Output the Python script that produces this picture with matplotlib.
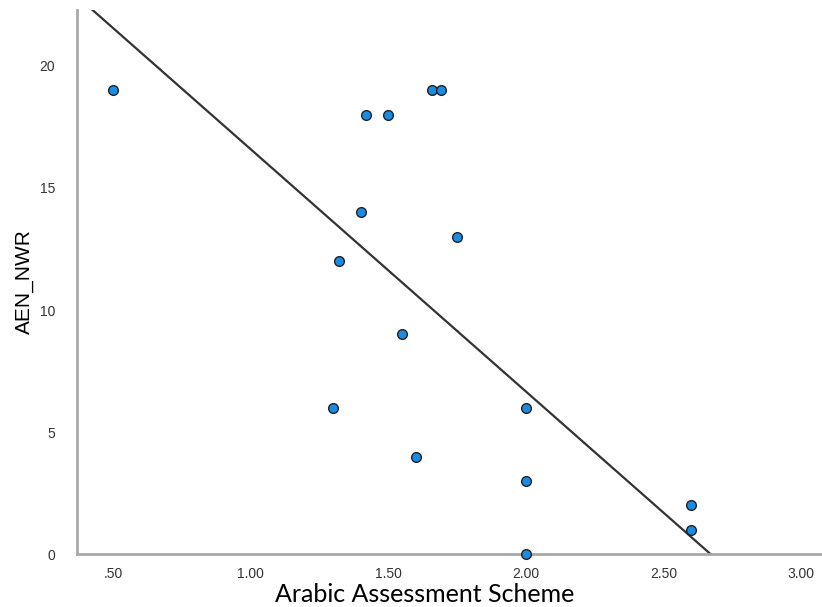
import numpy as np
import matplotlib
matplotlib.use("Agg")
import matplotlib.pyplot as plt

# Arabic Assessment Scheme vs AEN_NWR
scheme = [0.50, 1.42, 1.50, 1.66, 1.69, 1.40, 1.75, 1.32, 1.55, 1.30, 1.60, 2.00, 2.00, 2.00, 2.60, 2.60]
nwr = [19, 18, 18, 19, 19, 14, 13, 12, 9, 6, 4, 6, 3, 0, 2, 1]

# fit line as shown in the chart
fit_slope = -9.92
fit_icpt = 26.5

x_ticks = [0.5, 1.0, 1.5, 2.0, 2.5, 3.0]
x_labels = [".50", "1.00", "1.50", "2.00", "2.50", "3.00"]
y_ticks = [0, 5, 10, 15, 20]

fig = plt.figure(figsize=(8.22, 6.07), dpi=100)
ax = fig.add_axes([0.094, 0.087, 0.906, 0.897])

xs = np.array([0.3, 3.1])
ax.plot(xs, fit_icpt + fit_slope * xs, color="#333333", lw=1.6, zorder=2)

ax.plot(scheme, nwr, "o", ms=7, mfc="#1a8be0", mec="#222222", mew=1.0,
        clip_on=False, zorder=3)

ax.set_xlim(0.369, 3.076)
ax.set_ylim(0, 22.3)
ax.set_xticks(x_ticks)
ax.set_xticklabels(x_labels)
ax.set_yticks(y_ticks)
ax.tick_params(length=0, labelsize=10, labelcolor="#333333",
               labelfontfamily="Liberation Sans")
ax.tick_params(axis="x", pad=9)
ax.tick_params(axis="y", pad=16)

for s in ["top", "right"]:
    ax.spines[s].set_visible(False)
for s in ["left", "bottom"]:
    ax.spines[s].set_color("#a8a8a8")
    ax.spines[s].set_linewidth(2)

ax.set_ylabel("AEN_NWR", fontsize=15, family="Liberation Sans", labelpad=4)
ax.set_xlabel("Arabic Assessment Scheme", fontsize=18, family="Lato")
ax.xaxis.set_label_coords(0.467, -0.053, transform=ax.transAxes)
ax.xaxis.label.set_va("top")

fig.savefig("out.png", dpi=100)
